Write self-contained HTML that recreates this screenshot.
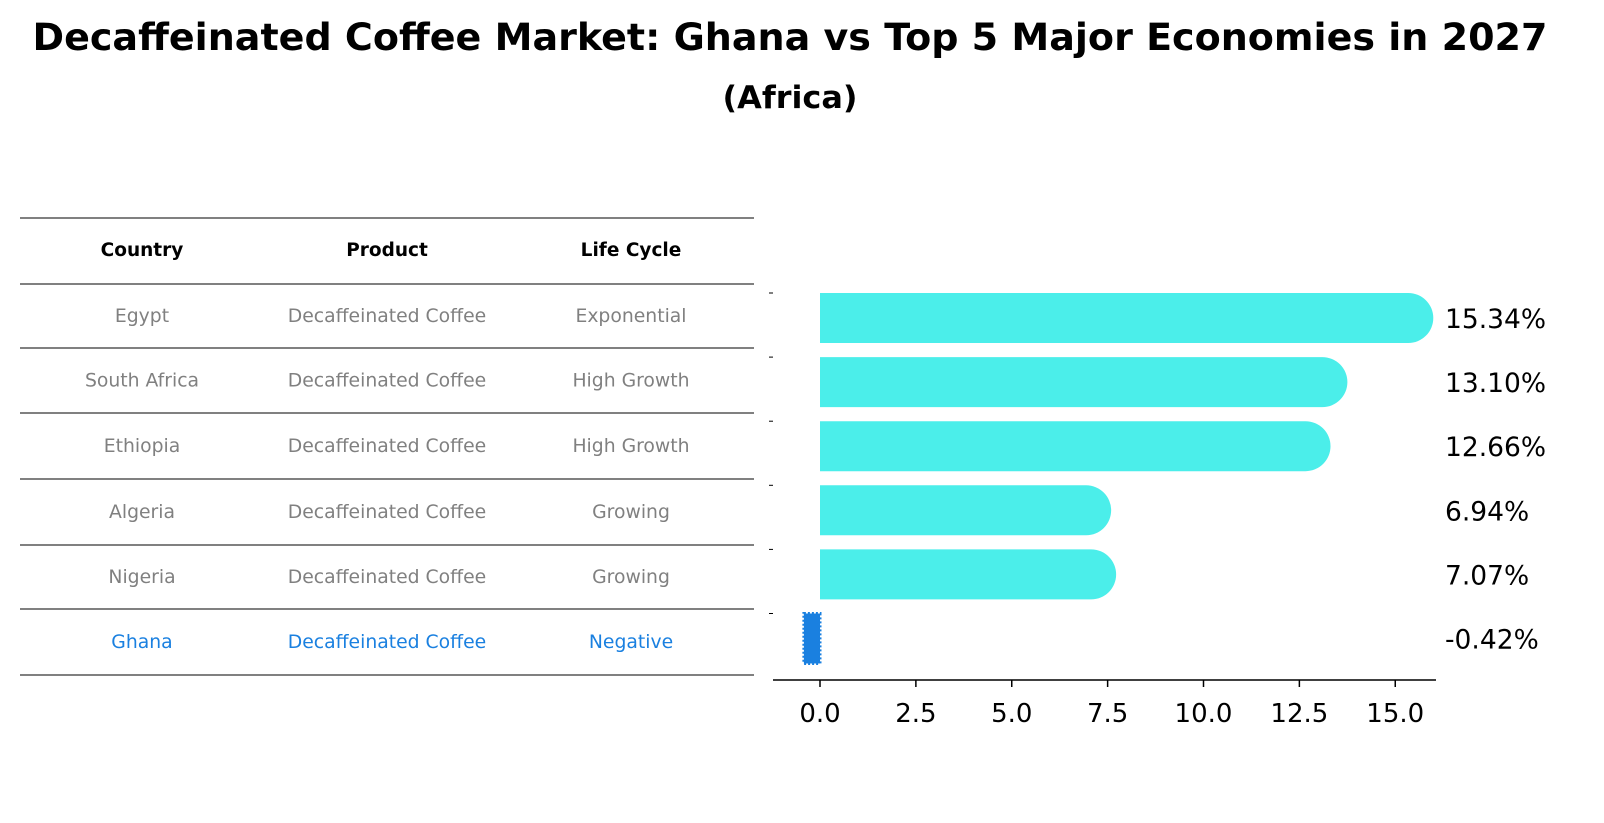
<!DOCTYPE html>
<html><head><meta charset="utf-8"><style>
body{margin:0;background:#fff;}
svg{display:block;font-family:"DejaVu Sans","Liberation Sans",sans-serif;}
</style></head><body>
<svg width="1604" height="823" viewBox="0 0 1604 823">
<text x="790" y="50" text-anchor="middle" font-size="37" font-weight="bold" textLength="1515" lengthAdjust="spacingAndGlyphs">Decaffeinated Coffee Market: Ghana vs Top 5 Major Economies in 2027</text>
<text x="790" y="108" text-anchor="middle" font-size="31" font-weight="bold" textLength="135" lengthAdjust="spacingAndGlyphs">(Africa)</text>
<g id="table"></g>
<g id="bars"></g>
</svg>
<script>
const countries=["Egypt","South Africa","Ethiopia","Algeria","Nigeria","Ghana"];
const products=["Decaffeinated Coffee","Decaffeinated Coffee","Decaffeinated Coffee","Decaffeinated Coffee","Decaffeinated Coffee","Decaffeinated Coffee"];
const lifeCycles=["Exponential","High Growth","High Growth","Growing","Growing","Negative"];
const growth=[15.34,13.10,12.66,6.94,7.07,-0.42];
const xTicks=[0,2.5,5,7.5,10,12.5,15];
const xTickLabels=["0.0","2.5","5.0","7.5","10.0","12.5","15.0"];

const NS="http://www.w3.org/2000/svg";
function mk(tag,attrs,parent,text){const e=document.createElementNS(NS,tag);for(const k in attrs)e.setAttribute(k,attrs[k]);if(text!==undefined)e.textContent=text;parent.appendChild(e);return e;}
const tbl=document.getElementById('table');
const lineYs=[218,284,348,413,479,545,609,675];
lineYs.forEach(y=>{const l=mk('line',{x1:20,x2:754,y1:y,y2:y,stroke:'#000','stroke-width':1},tbl);

});
const colX=[142,387,631];
["Country","Product","Life Cycle"].forEach((h,i)=>{const t=mk('text',{x:colX[i],y:256,'text-anchor':'middle','font-size':18.5,'font-weight':'bold'},tbl,h);

});
countries.forEach((c,r)=>{const y=(lineYs[r+1]+lineYs[r+2])/2+6;const col=c==="Ghana"?'#1a80e0':'#808080';
[c,products[r],lifeCycles[r]].forEach((v,i)=>{const t=mk('text',{x:colX[i],y:y,'text-anchor':'middle','font-size':18.8,fill:col},tbl,v);

});});

const g=document.getElementById('bars');
const x0=820,pxPer=38.35;
const xs=v=>x0+v*pxPer;
const yc=i=>318+i*64.1;
const bh=50;
growth.forEach((v,i)=>{
 if(v>=0){
  const end=xs(v),r=bh/2;
  const p=mk('path',{d:`M${x0},${yc(i)-r} L${end},${yc(i)-r} A${r},${r} 0 0 1 ${end},${yc(i)+r} L${x0},${yc(i)+r} Z`,fill:'#4beeea'},g);
  
  
 }else{
  const rr=mk('rect',{x:xs(v),y:yc(i)-bh/2,width:xs(0)-xs(v),height:bh,fill:'#1a80e0',stroke:'#1a80e0','stroke-width':3,'stroke-dasharray':'2 2'},g);
  
  
 }
 const t=mk('text',{x:1445,y:yc(i)+10,'font-size':26.5},g,v.toFixed(2)+'%');
 
 
 const tk=mk('line',{x1:769,x2:773,y1:yc(i)-25,y2:yc(i)-25,stroke:'#000','stroke-width':1},g);
 
 
});
const ax=mk('line',{x1:773,x2:1436,y1:680,y2:680,stroke:'#000','stroke-width':1.5},g);


xTicks.forEach((v,i)=>{const l=mk('line',{x1:xs(v),x2:xs(v),y1:680,y2:687,stroke:'#000','stroke-width':1.5},g);


const t=mk('text',{x:xs(v),y:722,'text-anchor':'middle','font-size':26},g,xTickLabels[i]);

});
</script>
</body></html>
